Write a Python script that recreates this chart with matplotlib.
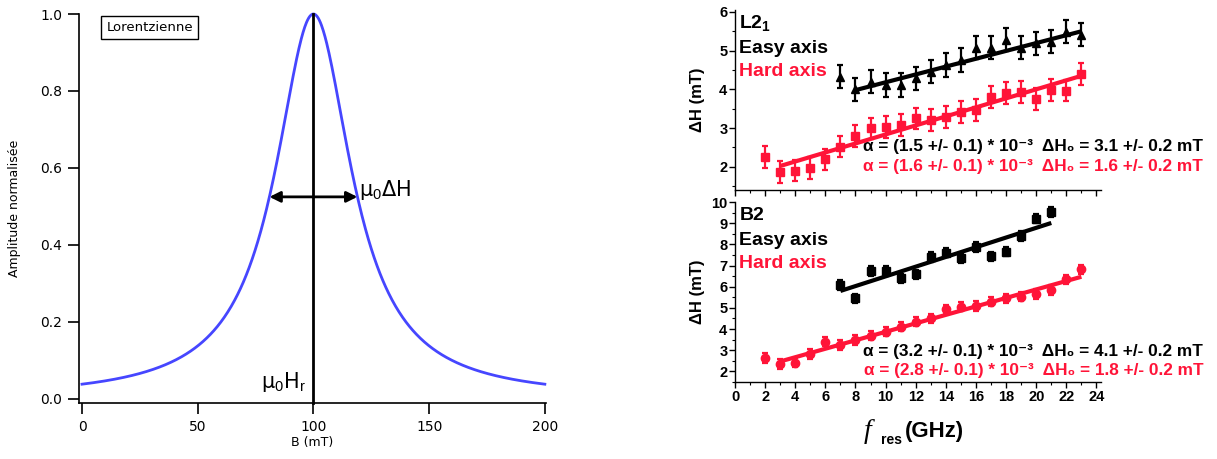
import numpy as np
import matplotlib
matplotlib.use("Agg")
import matplotlib.pyplot as plt

plt.rcParams["mathtext.fontset"] = "custom"
plt.rcParams["mathtext.rm"] = "Liberation Sans"
plt.rcParams["mathtext.bf"] = "Liberation Sans:bold"
plt.rcParams["mathtext.it"] = "Liberation Sans:italic"

# --- Lorentzienne (panneau de gauche) ---
B_MIN, B_MAX = 0, 200
B_CENTRE = 100.0      # mu0 Hr (mT)
B_DEMI_LARGEUR = 20.0  # demi-largeur a mi-hauteur (mT)
FLECHE_X = [81, 119]
FLECHE_Y = 0.525
B_TICKS = [0, 50, 100, 150, 200]
AMP_TICKS = [0.0, 0.2, 0.4, 0.6, 0.8, 1.0]

# --- L2_1 ---
l21_easy_f = [7, 8, 9, 10, 11, 12, 13, 14, 15, 16, 17, 18, 19, 20, 21, 22, 23]
l21_easy_dh = [4.33, 4.0, 4.20, 4.11, 4.11, 4.29, 4.46, 4.63, 4.76, 5.08, 5.08,
               5.28, 5.08, 5.19, 5.23, 5.49, 5.41]
l21_easy_err = [0.3] * 17
l21_easy_fit_f = [8, 23]
l21_easy_fit_dh = [3.98, 5.50]

l21_hard_f = [2, 3, 4, 5, 6, 7, 8, 9, 10, 11, 12, 13, 14, 15, 16, 17, 18, 19, 20, 21, 22, 23]
l21_hard_dh = [2.26, 1.87, 1.90, 1.96, 2.19, 2.52, 2.80, 2.99, 3.02, 3.08, 3.25,
               3.21, 3.29, 3.42, 3.47, 3.80, 3.90, 3.94, 3.75, 3.98, 3.97, 4.40]
l21_hard_err = [0.28] * 22
l21_hard_fit_f = [3, 23]
l21_hard_fit_dh = [2.02, 4.35]

# --- B2 ---
b2_easy_f = [7, 8, 9, 10, 11, 12, 13, 14, 15, 16, 17, 18, 19, 20, 21]
b2_easy_dh = [6.08, 5.45, 6.74, 6.74, 6.39, 6.58, 7.41, 7.60, 7.36, 7.88, 7.44,
              7.65, 8.40, 9.22, 9.53]
b2_easy_err = [0.22] * 15
b2_easy_fit_f = [7, 21]
b2_easy_fit_dh = [5.80, 9.01]

b2_hard_f = [2, 3, 4, 5, 6, 7, 8, 9, 10, 11, 12, 13, 14, 15, 16, 17, 18, 19, 20, 21, 22, 23]
b2_hard_dh = [2.63, 2.35, 2.42, 2.82, 3.41, 3.25, 3.49, 3.68, 3.88, 4.12, 4.35,
              4.51, 4.93, 5.06, 5.09, 5.29, 5.45, 5.53, 5.65, 5.84, 6.35, 6.82]
b2_hard_err = [0.22] * 22
b2_hard_fit_f = [3, 23]
b2_hard_fit_dh = [2.47, 6.47]

ROUGE = "#ff1438"
BLEU = "#4646ff"
W, H = 1217, 459


def px_axes(x0, y_top, x1, y_bot):
    """Position d'un axe en pixels -> fraction de figure."""
    return [x0 / W, (H - y_bot) / H, (x1 - x0) / W, (y_bot - y_top) / H]


fig = plt.figure(figsize=(W / 100, H / 100), dpi=100)

# ---------------- panneau gauche ----------------
ax = fig.add_axes(px_axes(79, 14, 546, 403))
b = np.linspace(B_MIN, B_MAX, 801)
amp = 1.0 / (1.0 + ((b - B_CENTRE) / B_DEMI_LARGEUR) ** 2)
ax.plot(b, amp, color=BLEU, lw=2.0, clip_on=False, zorder=3)
ax.set_xlim(-1.3, 200.5)
ax.set_ylim(-0.0104, 1.0)
ax.plot([B_CENTRE, B_CENTRE], [-0.0104, 1.0], color="black", lw=2.0, clip_on=False, zorder=4)
ax.annotate("", xy=(FLECHE_X[0], FLECHE_Y), xytext=(FLECHE_X[1], FLECHE_Y),
            arrowprops=dict(arrowstyle="<|-|>", color="black", lw=2.0,
                            mutation_scale=16, shrinkA=0, shrinkB=0), zorder=5)
ax.text(119.5, 0.543, r"μ$_\mathrm{0}$ΔH", fontsize=15, family="DejaVu Sans",
        va="center", ha="left")
ax.text(96.5, 0.012, r"μ$_\mathrm{0}$H$_\mathrm{r}$", fontsize=15,
        family="DejaVu Sans", va="bottom", ha="right")
ax.text(10.5, 0.965, "Lorentzienne", fontsize=9.5, family="DejaVu Sans", va="center",
        ha="left", bbox=dict(boxstyle="square,pad=0.4", fc="white", ec="black", lw=1.0))
for s in ["top", "right"]:
    ax.spines[s].set_visible(False)
for s in ["left", "bottom"]:
    ax.spines[s].set_linewidth(1.2)
ax.set_xticks(B_TICKS)
ax.set_yticks(AMP_TICKS)
ax.set_yticklabels([f"{v:.1f}" for v in AMP_TICKS])
ax.tick_params(direction="out", length=8, width=1.2, labelsize=10, pad=4)
for lab in ax.get_xticklabels() + ax.get_yticklabels():
    lab.set_family("DejaVu Sans")
ax.set_xlabel("B (mT)", fontsize=9, family="DejaVu Sans", labelpad=2)
ax.set_ylabel("Amplitude normalisée", fontsize=9, family="DejaVu Sans")
ax.yaxis.set_label_coords(-0.125, 0.5)

# ---------------- panneaux de droite ----------------
ax1 = fig.add_axes(px_axes(735, 10, 1101, 190))
ax2 = fig.add_axes(px_axes(735, 202, 1101, 382))

panneaux = [
    (ax1, "L2$_\\mathbf{1}$", (1.40, 6.05), [2, 3, 4, 5, 6],
     (l21_easy_f, l21_easy_dh, l21_easy_err, l21_easy_fit_f, l21_easy_fit_dh, "^"),
     (l21_hard_f, l21_hard_dh, l21_hard_err, l21_hard_fit_f, l21_hard_fit_dh, "s"),
     ["α = (1.5 +/- 0.1) * 10⁻³  ΔH₀ = 3.1 +/- 0.2 mT",
      "α = (1.6 +/- 0.1) * 10⁻³  ΔH₀ = 1.6 +/- 0.2 mT"], (0.215, 0.108)),
    (ax2, "B2", (1.50, 10.0), [2, 3, 4, 5, 6, 7, 8, 9, 10],
     (b2_easy_f, b2_easy_dh, b2_easy_err, b2_easy_fit_f, b2_easy_fit_dh, "s"),
     (b2_hard_f, b2_hard_dh, b2_hard_err, b2_hard_fit_f, b2_hard_fit_dh, "o"),
     ["α = (3.2 +/- 0.1) * 10⁻³  ΔH₀ = 4.1 +/- 0.2 mT",
      "α = (2.8 +/- 0.1) * 10⁻³  ΔH₀ = 1.8 +/- 0.2 mT"], (0.142, 0.037)),
]

plt.rcParams["mathtext.default"] = "bf"
for a, titre, ylim, yticks, easy, hard, textes, y_textes in panneaux:
    for (f, dh, err, ff, fd, mk), c in [(easy, "black"), (hard, ROUGE)]:
        a.errorbar(f, dh, yerr=err, fmt=mk, color=c, ms=6, elinewidth=1.6,
                   capsize=2.5, capthick=1.6, zorder=3)
        a.plot(ff, fd, color=c, lw=3.0, solid_capstyle="butt", zorder=4)
    a.set_xlim(0, 24.3)
    a.set_ylim(*ylim)
    a.set_xticks(range(0, 25, 2))
    a.set_xticks(range(0, 25), minor=True)
    a.set_yticks(yticks)
    a.set_yticks(np.arange(yticks[0] - 0.5, yticks[-1] + 0.01, 0.5), minor=True)
    for s in ["top", "right"]:
        a.spines[s].set_visible(False)
    for s in ["left", "bottom"]:
        a.spines[s].set_linewidth(1.0)
    a.tick_params(which="major", direction="out", length=4, width=1.0,
                  labelsize=10.5, pad=1.5)
    a.tick_params(which="minor", direction="out", length=2.5, width=0.8)
    for lab in a.get_xticklabels() + a.get_yticklabels():
        lab.set_family("Liberation Sans")
        lab.set_weight("bold")
    a.text(0.012, 0.90, titre, transform=a.transAxes, fontsize=14,
           family="Liberation Sans", weight="bold", va="baseline", ha="left")
    a.text(0.012, 0.762, "Easy axis", transform=a.transAxes, fontsize=14,
           family="Liberation Sans", weight="bold", va="baseline", ha="left")
    a.text(0.012, 0.634, "Hard axis", transform=a.transAxes, fontsize=14,
           family="Liberation Sans", weight="bold", va="baseline", ha="left", color=ROUGE)
    a.text(1.279, y_textes[0], textes[0], transform=a.transAxes, fontsize=12.4,
           family=["Liberation Sans", "DejaVu Sans"], weight="bold",
           va="baseline", ha="right")
    a.text(1.279, y_textes[1], textes[1], transform=a.transAxes, fontsize=12.4,
           family=["Liberation Sans", "DejaVu Sans"], weight="bold",
           va="baseline", ha="right", color=ROUGE)
    a.set_ylabel("ΔH (mT)", fontsize=12, family="Liberation Sans", weight="bold")
    a.yaxis.set_label_coords(-0.082, 0.5)

ax1.tick_params(axis="x", which="both", labelbottom=False)

fig.text(868 / W, 1 - 438 / H, "f", fontsize=20, family="Liberation Serif",
         style="italic", ha="center", va="baseline")
fig.text(881 / W, 1 - 444 / H, "res", fontsize=10, family="Liberation Sans",
         weight="bold", ha="left", va="baseline")
fig.text(905 / W, 1 - 437 / H, "(GHz)", fontsize=16, family="Liberation Sans",
         weight="bold", ha="left", va="baseline")

fig.savefig("out.png", dpi=100)
